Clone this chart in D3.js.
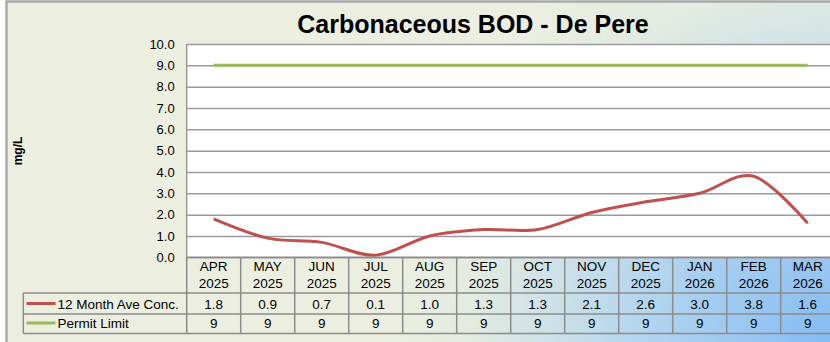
<!DOCTYPE html>
<html>
<head>
<meta charset="utf-8">
<script src="https://cdn.jsdelivr.net/npm/d3@7"></script>
<style>
  html, body { margin: 0; padding: 0; background: #fff; }
  svg { display: block; font-family: "Liberation Sans", Arial, sans-serif; }
</style>
</head>
<body>
<svg id="chart" width="830" height="342"></svg>
<script>
// Monthly categories (month, year)
const months = ["APR", "MAY", "JUN", "JUL", "AUG", "SEP", "OCT", "NOV", "DEC", "JAN", "FEB", "MAR"];
const years = ["2025", "2025", "2025", "2025", "2025", "2025", "2025", "2025", "2025", "2026", "2026", "2026"];
// Series values, mg/L
const aveConc = [1.8, 0.9, 0.7, 0.1, 1.0, 1.3, 1.3, 2.1, 2.6, 3.0, 3.8, 1.6];
const permitLimit = [9, 9, 9, 9, 9, 9, 9, 9, 9, 9, 9, 9];
// Y axis ticks
const yTicks = [0, 1, 2, 3, 4, 5, 6, 7, 8, 9, 10];

const seriesNames = ["12 Month Ave Conc.", "Permit Limit"];
const seriesColors = ["#C0504D", "#9BBB59"];

const W = 830, H = 342;
const plot = { left: 186.7, right: 834.7, top: 44, bottom: 257.3 };
const table = { left: 23.3, header: 293, row1: 314, row2: 333.5 };
const gridColor = "#9a9a9a";

const svg = d3.select("#chart");
const keys = months.map((m, i) => m + " " + years[i]);

// Background with a blue wash in the lower-right corner
const defs = svg.append("defs");
const grad = defs.append("radialGradient")
  .attr("id", "bg")
  .attr("gradientUnits", "userSpaceOnUse")
  .attr("cx", 830).attr("cy", 342).attr("r", 450);
grad.append("stop").attr("offset", "0").attr("stop-color", "#84BCF3");
grad.append("stop").attr("offset", "0.45").attr("stop-color", "#B7D7EE");
grad.append("stop").attr("offset", "0.8").attr("stop-color", "#E3EBE1");
grad.append("stop").attr("offset", "1").attr("stop-color", "#ECEFE0");

svg.append("rect").attr("x", 0).attr("y", 0).attr("width", W).attr("height", H).attr("fill", "#ffffff");
svg.append("rect").attr("x", 6.5).attr("y", 1.5).attr("width", W).attr("height", H)
  .attr("fill", "url(#bg)");
// outer frame (top and left edges)
svg.append("path").attr("d", `M6.5,${H} V1.5 H${W}`)
  .attr("fill", "none").attr("stroke", "#a9a9a9").attr("stroke-width", 2.5);

// Title
svg.append("text")
  .attr("x", 473).attr("y", 33)
  .attr("text-anchor", "middle")
  .attr("font-size", 25).attr("font-weight", "bold")
  .attr("fill", "#000")
  .text("Carbonaceous BOD - De Pere");

// Scales
const x = d3.scaleBand().domain(keys).range([plot.left, plot.right]);
const y = d3.scaleLinear().domain([0, 10]).range([plot.bottom, plot.top]);

// Plot area
svg.append("rect")
  .attr("x", plot.left).attr("y", plot.top)
  .attr("width", plot.right - plot.left).attr("height", plot.bottom - plot.top)
  .attr("fill", "#ffffff");

// Y axis with gridlines
const yAxis = svg.append("g")
  .attr("transform", `translate(${plot.left},0)`)
  .call(d3.axisLeft(y).tickValues(yTicks).tickFormat(d3.format(".1f"))
    .tickSize(-(plot.right - plot.left)).tickPadding(12));
yAxis.select(".domain").remove();
yAxis.selectAll(".tick line").attr("stroke", gridColor).attr("stroke-width", 1.5);
yAxis.selectAll(".tick text").attr("font-size", 13).attr("fill", "#000")
  .attr("font-family", "\"Liberation Sans\", Arial, sans-serif");

// Plot left border
svg.append("line")
  .attr("x1", plot.left).attr("x2", plot.left)
  .attr("y1", plot.top).attr("y2", plot.bottom)
  .attr("stroke", gridColor).attr("stroke-width", 1.5);

// Y axis title
svg.append("text")
  .attr("transform", "translate(22,151) rotate(-90)")
  .attr("text-anchor", "middle")
  .attr("font-size", 12).attr("font-weight", "bold")
  .attr("fill", "#000")
  .text("mg/L");

// Series lines
const cx = k => x(k) + x.bandwidth() / 2;
svg.append("path")
  .datum(permitLimit)
  .attr("fill", "none").attr("stroke", seriesColors[1]).attr("stroke-width", 3)
  .attr("d", d3.line().x((d, i) => cx(keys[i])).y(d => y(d)));

svg.append("path")
  .datum(aveConc)
  .attr("fill", "none").attr("stroke", seriesColors[0]).attr("stroke-width", 3)
  .attr("stroke-linejoin", "round")
  .attr("d", d3.line().curve(d3.curveCardinal.tension(0)).x((d, i) => cx(keys[i])).y(d => y(d)));

// Data table
const tg = svg.append("g").attr("stroke", "#8c8c8c").attr("stroke-width", 1.5);
// horizontal rules
[table.header, table.row1, table.row2].forEach(yy => {
  tg.append("line").attr("x1", table.left).attr("x2", W + 10).attr("y1", yy).attr("y2", yy);
});
// legend column left edge
tg.append("line").attr("x1", table.left).attr("x2", table.left)
  .attr("y1", table.header).attr("y2", table.row2);
// column separators
keys.forEach(k => {
  tg.append("line").attr("x1", x(k)).attr("x2", x(k))
    .attr("y1", plot.bottom).attr("y2", table.row2);
});
// plot bottom edge
tg.append("line").attr("x1", plot.left).attr("x2", W + 10)
  .attr("y1", plot.bottom).attr("y2", plot.bottom);

const fs = 13.5;
// header labels
const hdr = svg.append("g").attr("font-size", fs).attr("fill", "#000").attr("text-anchor", "middle");
keys.forEach((k, i) => {
  hdr.append("text").attr("x", cx(k)).attr("y", 271).text(months[i]);
  hdr.append("text").attr("x", cx(k)).attr("y", 287.5).text(years[i]);
});

// value rows
const rows = [aveConc, permitLimit];
const rowBase = [308.5, 327.5];
const rowMid = [303.5, 323];
rows.forEach((vals, r) => {
  const g = svg.append("g").attr("font-size", fs).attr("fill", "#000");
  vals.forEach((v, i) => {
    g.append("text").attr("x", cx(keys[i])).attr("y", rowBase[r])
      .attr("text-anchor", "middle")
      .text(r === 0 ? d3.format(".1f")(v) : v);
  });
  // legend key
  g.append("line").attr("x1", 26.5).attr("x2", 55.5)
    .attr("y1", rowMid[r]).attr("y2", rowMid[r])
    .attr("stroke", seriesColors[r]).attr("stroke-width", 3);
  g.append("text").attr("x", 57.5).attr("y", rowBase[r]).text(seriesNames[r]);
});
</script>
</body>
</html>
